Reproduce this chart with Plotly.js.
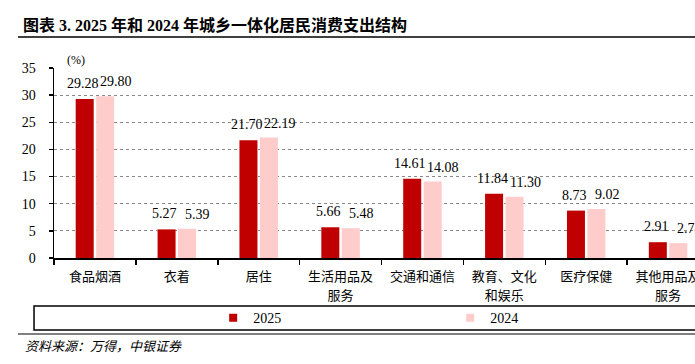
<!DOCTYPE html>
<html>
<head>
<meta charset="utf-8">
<script src="https://cdn.plot.ly/plotly-3.0.1.min.js"></script>
<style>
html,body{margin:0;padding:0;overflow:hidden;background:#fff;width:695px;height:364px;}
#chart{width:720px;height:364px;}
</style>
</head>
<body>
<div id="chart"></div>
<script>
const categories = ["食品烟酒", "衣着", "居住", "生活用品及<br>服务", "交通和通信", "教育、文化<br>和娱乐", "医疗保健", "其他用品及<br>服务"];
const series2025 = [29.28, 5.27, 21.70, 5.66, 14.61, 11.84, 8.73, 2.91];
const series2024 = [29.80, 5.39, 22.19, 5.48, 14.08, 11.30, 9.02, 2.74];
const seriesNames = ["2025", "2024"];
const colors = ["#C00000", "#FFCCCC"];
const yTicks = [0, 5, 10, 15, 20, 25, 30, 35];

const serif = "'Liberation Serif', 'Times New Roman', serif";
const cjk = "'Noto Sans CJK SC', sans-serif";

// tick labels: same text, each line at 13px inside a slightly taller line box
const tickLabels = categories.map(c => c.split("<br>").map(s => '<span style="font-size:13px">' + s + '</span>').join("<br>"));

const traces = [
  {type: "bar", name: seriesNames[0], x: categories, y: series2025,
   marker: {color: colors[0], line: {width: 0}}, showlegend: false, hoverinfo: "none"},
  {type: "bar", name: seriesNames[1], x: categories, y: series2024,
   marker: {color: colors[1], line: {width: 0}}, showlegend: false, hoverinfo: "none"},
  // legend keys (small squares)
  {type: "scatter", mode: "markers", name: seriesNames[0], x: [null], y: [null],
   marker: {symbol: "square", size: 8, color: colors[0]}, showlegend: true},
  {type: "scatter", mode: "markers", name: seriesNames[1], x: [null], y: [null],
   marker: {symbol: "square", size: 8, color: colors[1]}, showlegend: true}
];

const annotations = [];
categories.forEach((c, i) => {
  annotations.push({x: c, y: series2025[i], xref: "x", yref: "y", text: series2025[i].toFixed(2),
    showarrow: false, xanchor: "center", yanchor: "bottom", xshift: -12, yshift: 6,
    font: {family: serif, size: 14, color: "#000"}});
  annotations.push({x: c, y: series2024[i], xref: "x", yref: "y", text: series2024[i].toFixed(2),
    showarrow: false, xanchor: "center", yanchor: "bottom", xshift: 21, yshift: 5,
    font: {family: serif, size: 14, color: "#000"}});
});
annotations.push({xref: "paper", yref: "paper", x: 0.0168, y: 1.042, xanchor: "left", yanchor: "middle",
  text: "(%)", showarrow: false, font: {family: serif, size: 12, color: "#000"}});
annotations.push({xref: "paper", yref: "paper", x: -0.0475, y: -0.458, xanchor: "left", yanchor: "middle",
  text: "<i>资料来源：万得，中银证券</i>", showarrow: false, font: {family: cjk, size: 13, color: "#000"}});

const layout = {
  width: 720, height: 364,
  margin: {l: 54, r: 11, t: 68, b: 106},
  paper_bgcolor: "#fff", plot_bgcolor: "#fff",
  title: {text: "<b>图表 3. 2025 年和 2024 年城乡一体化居民消费支出结构</b>",
    xref: "container", yref: "container", x: 23/720, xanchor: "left", y: 1 - 25/364, yanchor: "middle",
    font: {family: serif + ", " + cjk, size: 16, color: "#000"}},
  barmode: "group", bargap: 0.5, bargroupgap: 0.12,
  xaxis: {type: "category", showline: true, linecolor: "#000", linewidth: 1.5,
    ticks: "outside", tickson: "boundaries", ticklen: 5, tickcolor: "#000", tickwidth: 1.5,
    showgrid: false, range: [-0.5, 7.5], fixedrange: true,
    tickvals: categories, ticktext: tickLabels,
    tickfont: {family: cjk, size: 14, color: "#000"}, ticklabelstandoff: 5},
  yaxis: {range: [0, 35], tickvals: yTicks, ticktext: yTicks.map(String), showline: true, linecolor: "#000", linewidth: 1.5,
    ticks: "outside", ticklen: 4, tickcolor: "#000", tickwidth: 1.5,
    showgrid: true, gridcolor: "#888", griddash: "dot", gridwidth: 1, zeroline: false,
    tickfont: {family: serif, size: 14, color: "#000"}, ticklabelstandoff: 10},
  legend: {orientation: "h", x: 0.243, xanchor: "left", y: -0.316, yanchor: "middle",
    entrywidth: 192, entrywidthmode: "pixels", itemwidth: 30, bgcolor: "rgba(0,0,0,0)",
    font: {family: serif, size: 14, color: "#000"}},
  shapes: [
    {type: "line", xref: "paper", yref: "paper", x0: -0.055, x1: 1.1, y0: 1.163, y1: 1.163,
     line: {color: "#000", width: 1.5}},
    {type: "rect", xref: "paper", yref: "paper", x0: -0.0305, x1: 1.1, y0: -0.2526, y1: -0.379,
     line: {color: "#000", width: 1.5}},
    {type: "line", xref: "paper", yref: "paper", x0: -0.055, x1: 1.1, y0: -0.4, y1: -0.4,
     line: {color: "#808080", width: 2}}
  ],
  annotations: annotations
};

Plotly.newPlot("chart", traces, layout, {displayModeBar: false, staticPlot: true});
</script>
</body>
</html>
